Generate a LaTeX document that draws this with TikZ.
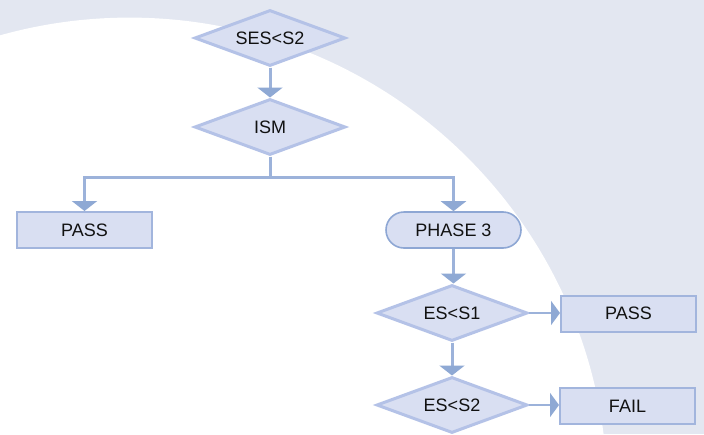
\documentclass[tikz,border=0pt]{standalone}
\usepackage{fontspec}
\setmainfont{Liberation Sans}
\usetikzlibrary{shapes.geometric,arrows.meta}
\definecolor{bgc}{HTML}{E3E7F1}
\definecolor{nodefill}{HTML}{D9DFF2}
\definecolor{dborder}{HTML}{B4C2E7}
\definecolor{rborder}{HTML}{A2B5DD}
\definecolor{pborder}{HTML}{8EA7D4}
\definecolor{conn}{HTML}{9CB2DA}
\definecolor{tipc}{HTML}{8FA9D4}
\definecolor{txt}{HTML}{111111}
\tikzset{
  every node/.style={font=\fontsize{18}{20}\selectfont, text=txt},
  decision/.style={diamond, aspect=2.7, draw=dborder, fill=nodefill, line width=3pt,
    minimum width=151pt, minimum height=56pt, inner sep=0pt},
  resultbox/.style={rectangle, draw=rborder, fill=nodefill, line width=2pt,
    minimum width=135pt, minimum height=36pt, inner sep=0pt},
  phasebox/.style={rectangle, rounded corners=18pt, draw=pborder, fill=nodefill, line width=1.6pt,
    minimum width=135pt, minimum height=36pt, inner sep=0pt},
  conn/.style={draw=conn, line width=3pt,
    -{Triangle[width=25pt,length=10pt,color=tipc]}},
  connh/.style={draw=conn, line width=2pt,
    -{Triangle[width=24pt,length=9pt,color=tipc]}},
  plainline/.style={draw=conn, line width=3pt}
}
\begin{document}
\begin{tikzpicture}[x=1pt,y=-1pt]
\useasboundingbox (0,0) rectangle (704,434);
\begin{scope}
\clip (0,0) rectangle (704,434);
\fill[bgc] (0,0) rectangle (704,434);
\fill[white] (129.5,495.6) circle[radius=478];
\end{scope}

\node[decision] (ses) at (270,38) {SES<S2};
\node[decision] (ism) at (270,127) {ISM};
\node[resultbox] (pass1) at (84.5,230) {PASS};
\node[phasebox] (phase) at (453.5,230) {PHASE 3};
\node[decision] (es1) at (452,313) {ES<S1};
\node[decision] (es2) at (452,405) {ES<S2};
\node[resultbox] (pass2) at (628.5,313.5) {PASS};
\node[resultbox] (fail) at (627.5,406) {FAIL};

\coordinate (j) at (270,177);
\draw[conn] (ses.south) -- (ism.north);
\draw[plainline] (ism.south) -- (j);
\draw[conn] (j) -| (pass1.north);
\draw[conn] (j) -| (phase.north);
\draw[conn] (phase.south) -- (phase.south |- es1.north);
\draw[connh] (es1.east) -- (es1.east -| pass2.west);
\draw[conn] (es1.south) -- (es2.north);
\draw[connh] (es2.east) -- (es2.east -| fail.west);
\end{tikzpicture}
\end{document}
